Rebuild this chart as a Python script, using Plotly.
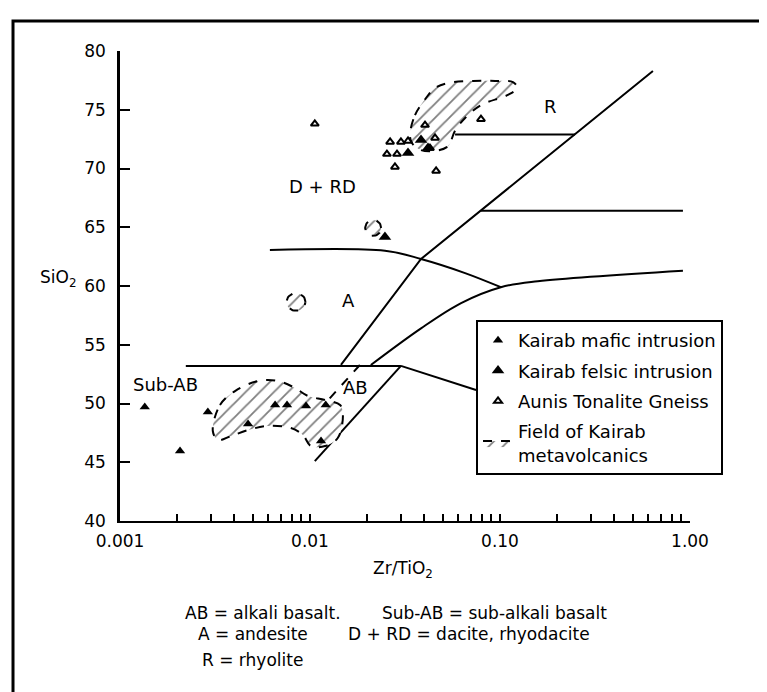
import numpy as np
import plotly.graph_objects as go

# classification boundaries (Zr/TiO2, SiO2)
ab_lower_x = [0.0106, 0.0301]
ab_lower_y = [45.1, 53.2]
sub_ab_top_x = [0.00222, 0.0301]
sub_ab_top_y = [53.2, 53.2]
ab_right_x = [0.0301, 0.0748]
ab_right_y = [53.2, 51.15]
long_diag_x = [0.01455, 0.0384, 0.638]
long_diag_y = [53.28, 62.3, 78.3]
a_ab_x = [0.0209, 0.0384, 0.0624, 0.101, 0.158, 0.918]
a_ab_y = [53.28, 56.4, 58.55, 59.9, 60.4, 61.3]
a_d_x = [0.00615, 0.0248, 0.0384, 0.0655, 0.101]
a_d_y = [63.06, 63.0, 62.3, 61.1, 59.9]
r_line_x = [0.058, 0.248]
r_line_y = [72.9, 72.9]
mid_line_x = [0.0794, 0.918]
mid_line_y = [66.4, 66.4]
dash_x = [0.0183, 0.0117]
dash_y = [53.28, 49.8]

# fields of Kairab metavolcanics
big_field_x = [0.00308, 0.00336, 0.00403, 0.00532, 0.00679, 0.00834, 0.00976, 0.0120,
               0.0144, 0.0149, 0.0140, 0.0120, 0.0101, 0.00918, 0.00794, 0.00601,
               0.00472, 0.00384, 0.00328, 0.00308]
big_field_y = [47.66, 49.87, 51.06, 51.91, 51.91, 51.32, 50.64, 50.30,
               49.87, 49.02, 47.06, 46.38, 46.38, 47.32, 47.91, 48.09,
               47.74, 47.23, 46.89, 47.66]
upper_field_x = [0.0336, 0.0357, 0.0408, 0.0455, 0.0533, 0.0721, 0.0942, 0.117, 0.123,
                 0.110, 0.0794, 0.0655, 0.0579, 0.0533, 0.0455, 0.0384, 0.0344, 0.0336]
upper_field_y = [72.85, 74.55, 76.0, 76.85, 77.28, 77.45, 77.45, 77.36, 76.85,
                 76.26, 75.4, 74.3, 73.19, 71.9, 71.5, 71.57, 72.17, 72.85]
small_field_cx = [0.0215, 0.00844]
small_field_cy = [64.94, 58.64]
small_field_rx = [0.042, 0.05]   # log10 units
small_field_ry = [0.68, 0.75]

# samples
mafic_x = [0.00135, 0.00207, 0.0029, 0.00472, 0.00655, 0.00757, 0.00953, 0.0121, 0.01143]
mafic_y = [49.7, 45.96, 49.28, 48.26, 49.87, 49.87, 49.79, 49.87, 46.8]
felsic_x = [0.0328, 0.0384, 0.0418, 0.0248]
felsic_y = [71.32, 72.43, 71.74, 64.17]
aunis_x = [0.0106, 0.0264, 0.0301, 0.0254, 0.0287, 0.0280, 0.0461, 0.0403, 0.0455,
           0.0794, 0.0328, 0.0428]
aunis_y = [73.8, 72.26, 72.26, 71.23, 71.23, 70.13, 69.79, 73.7, 72.6,
           74.2, 72.34, 71.74]

FONT = "DejaVu Sans"
fig = go.Figure()

def add_line(x, y, dash="solid", shape="linear"):
    fig.add_trace(go.Scatter(x=x, y=y, mode="lines", showlegend=False, hoverinfo="skip",
                             line=dict(color="black", width=2, dash=dash, shape=shape)))

add_line(ab_lower_x, ab_lower_y)
add_line(sub_ab_top_x, sub_ab_top_y)
add_line(ab_right_x, ab_right_y)
add_line(long_diag_x, long_diag_y)
add_line(a_ab_x, a_ab_y, shape="spline")
add_line(a_d_x, a_d_y, shape="spline")
add_line(r_line_x, r_line_y)
add_line(mid_line_x, mid_line_y)
add_line(dash_x, dash_y, dash="dash")

hatch = dict(shape="/", fgcolor="black", bgcolor="white", size=10, solidity=0.18)

def add_field(x, y, shape="spline", legend=False):
    fig.add_trace(go.Scatter(x=x, y=y, mode="lines", fill="toself", fillcolor="white",
                             fillpattern=hatch, hoverinfo="skip",
                             line=dict(color="black", width=2, dash="dash", shape=shape),
                             name="Field of Kairab<br>metavolcanics", showlegend=legend,
                             legendgroup="field", legendrank=4))

add_field(big_field_x, big_field_y, legend=True)
add_field(upper_field_x, upper_field_y)
t = np.linspace(0, 2 * np.pi, 40)
for cx, cy, rx, ry in zip(small_field_cx, small_field_cy, small_field_rx, small_field_ry):
    add_field(10 ** (np.log10(cx) + rx * np.cos(t)), cy + ry * np.sin(t), shape="linear")

fig.add_trace(go.Scatter(x=mafic_x, y=mafic_y, mode="markers", name="Kairab mafic intrusion",
                         marker=dict(symbol="triangle-up", size=9, color="black"),
                         legendgroup="mafic", legendrank=1))
fig.add_trace(go.Scatter(x=felsic_x, y=felsic_y, mode="markers", name="Kairab felsic intrusion",
                         marker=dict(symbol="triangle-up", size=11, color="black"),
                         legendgroup="felsic", legendrank=2))
fig.add_trace(go.Scatter(x=aunis_x, y=aunis_y, mode="markers", name="Aunis Tonalite Gneiss",
                         marker=dict(symbol="triangle-up-open", size=7, color="black",
                                     line=dict(width=2)),
                         legendgroup="aunis", legendrank=3))

# region labels (x in log10 units)
labels = [("R", -0.732, 75.3), ("D + RD", -1.932, 68.5), ("A", -1.795, 58.8),
          ("Sub-AB", -2.758, 51.6), ("AB", -1.758, 51.4)]
for txt, lx, ly in labels:
    fig.add_annotation(x=lx, y=ly, text=txt, showarrow=False,
                       font=dict(family=FONT, size=18, color="black"))

fig.add_annotation(xref="paper", yref="paper", x=-0.108, y=0.517, text="SiO<sub>2</sub>",
                   xanchor="center", yanchor="middle", showarrow=False,
                   font=dict(family=FONT, size=17, color="black"))
fig.add_annotation(xref="paper", yref="paper", x=0.4965, y=-0.104, text="Zr/TiO<sub>2</sub>",
                   xanchor="center", yanchor="middle", showarrow=False,
                   font=dict(family=FONT, size=17, color="black"))

captions = [("AB = alkali basalt.", 0.1105, -0.196), ("Sub-AB = sub-alkali basalt", 0.456, -0.196),
            ("A = andesite", 0.1333, -0.241), ("D + RD = dacite, rhyodacite", 0.396, -0.241),
            ("R = rhyolite", 0.1404, -0.296)]
for txt, cx, cy in captions:
    fig.add_annotation(xref="paper", yref="paper", x=cx, y=cy, text=txt, showarrow=False,
                       xanchor="left", yanchor="middle",
                       font=dict(family=FONT, size=17, color="black"))

# outer frame
fig.add_shape(type="rect", xref="paper", yref="paper", x0=-0.1877, x1=1.1404, y0=-0.45, y1=1.0638,
              line=dict(color="black", width=3))

minor_vals = [k * 10.0 ** e for e in (-3, -2, -1) for k in range(2, 10)]
fig.update_xaxes(type="log", range=[-3, 0], tickvals=[0.001, 0.01, 0.1, 1],
                 ticktext=["0.001", "0.01", "0.10", "1.00"], ticks="inside", ticklen=7,
                 tickwidth=1.5, tickcolor="black", showline=True, linewidth=2, linecolor="black",
                 showgrid=False, zeroline=False, ticklabelstandoff=4,
                 tickfont=dict(family=FONT, size=17, color="black"),
                 minor=dict(ticks="inside", ticklen=7, tickwidth=1.5, tickcolor="black",
                            tickvals=minor_vals, showgrid=False))
fig.update_yaxes(range=[40, 80], dtick=5, ticks="inside", ticklen=10, tickwidth=2,
                 tickcolor="black", showline=True, linewidth=2.5, linecolor="black",
                 showgrid=False, zeroline=False, ticklabelstandoff=8,
                 tickfont=dict(family=FONT, size=17, color="black"))

fig.update_layout(
    width=767, height=692,
    margin=dict(l=112, r=85, t=43, b=179),
    paper_bgcolor="white", plot_bgcolor="white",
    legend=dict(x=0.6246, y=0.4277, xanchor="left", yanchor="top", bgcolor="white",
                bordercolor="black", borderwidth=2, tracegroupgap=4, itemwidth=30,
                font=dict(family=FONT, size=18, color="black")),
)

fig.write_html("out.html")
